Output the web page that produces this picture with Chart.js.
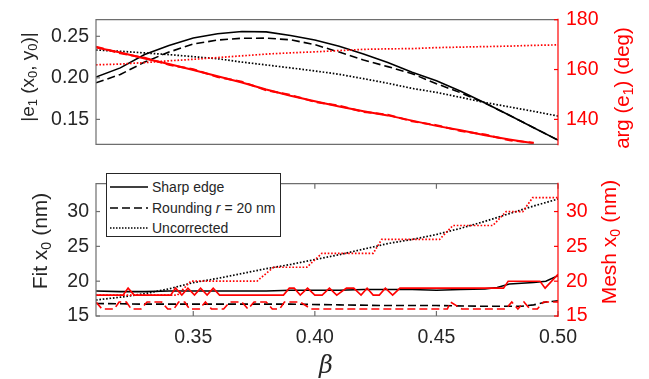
<!DOCTYPE html>
<html>
<head>
<meta charset="utf-8">
<script src="https://cdn.jsdelivr.net/npm/chart.js@4.4.1/dist/chart.umd.min.js"></script>
<style>
    body { margin: 0; background: #fff; font-family: "Liberation Sans", Arial, sans-serif; }
    #wrap { position: relative; width: 649px; height: 379px; overflow: hidden; }
    canvas { position: absolute; left: 0; }
    .lab { position: absolute; white-space: nowrap; transform: translate(-50%, -50%) rotate(-90deg); font-size: 21px; color: #262626; line-height: 1; }
    .lab sub { font-size: 0.68em; vertical-align: -0.3em; line-height: 0; }
    .red { color: #ff0000; }
    #beta { position: absolute; left: 326px; top: 365px; transform: translate(-50%, -50%); font-size: 24px; font-style: italic; color: #262626; font-family: "DejaVu Serif", serif; }
    #legend { position: absolute; left: 106px; top: 173px; width: 175px; height: 64px; border: 1px solid #262626; background: #fff; box-sizing: border-box; font-size: 14px; color: #262626; }
    .row { position: absolute; left: 3px; height: 18px; display: flex; align-items: center; white-space: nowrap; }
    .row svg { margin-right: 4px; }
</style>
</head>
<body>
<div id="wrap">
    <canvas id="topChart" width="649" height="164" style="top:0"></canvas>
    <canvas id="botChart" width="649" height="215" style="top:164px"></canvas>

    <div class="lab" style="left:27px;top:77px;font-size:19px;">|e<sub>1</sub> (x<sub>0</sub>, y<sub>0</sub>)|</div>
    <div class="lab red" style="left:622px;top:88px;font-size:20.5px;">arg (e<sub>1</sub>) (deg)</div>
    <div class="lab" style="left:39px;top:241px;">Fit x<sub>0</sub> (nm)</div>
    <div class="lab red" style="left:608px;top:242px;">Mesh x<sub>0</sub> (nm)</div>
    <div id="beta">β</div>

    <div id="legend">
        <div class="row" style="top:4px;"><svg width="38" height="4"><line x1="0" y1="2" x2="38" y2="2" stroke="#000" stroke-width="1.6"/></svg>Sharp edge</div>
        <div class="row" style="top:25px;"><svg width="38" height="4"><line x1="0" y1="2" x2="38" y2="2" stroke="#000" stroke-width="1.6" stroke-dasharray="8 4"/></svg>Rounding <i>&nbsp;r</i>&nbsp;= 20 nm</div>
        <div class="row" style="top:45px;"><svg width="38" height="4"><line x1="0" y1="2" x2="38" y2="2" stroke="#000" stroke-width="1.6" stroke-dasharray="1.5 1.5"/></svg>Uncorrected</div>
    </div>
</div>

<script>
// ---- top panel: |e1| (left axis) and arg(e1) (right axis) vs beta ----
const betaTop = [0.31, 0.32, 0.33, 0.34, 0.35, 0.36, 0.37, 0.38, 0.39, 0.40,
                 0.41, 0.42, 0.43, 0.44, 0.45, 0.46, 0.47, 0.48, 0.49, 0.50];
const absSharp = [0.201, 0.212, 0.228, 0.239, 0.248, 0.253, 0.2558, 0.2553, 0.251, 0.2455,
                  0.238, 0.2287, 0.2185, 0.2068, 0.1965, 0.1838, 0.1698, 0.155, 0.140, 0.125];
const absRound = [0.194, 0.204, 0.219, 0.231, 0.2407, 0.2455, 0.2477, 0.2478, 0.2458, 0.240,
                  0.231, 0.2215, 0.2135, 0.205, 0.193, 0.182, 0.1695, 0.155, 0.140, 0.125];
const absUnc = [0.2335, 0.232, 0.230, 0.228, 0.2255, 0.223, 0.219, 0.2155, 0.212, 0.2083,
                0.2043, 0.199, 0.1935, 0.1873, 0.1825, 0.1765, 0.1703, 0.165, 0.1597, 0.154];
const argSharp = [168.9, 166.8, 164.4, 162.2, 159.8, 157.3, 154.8, 152.0, 149.5, 147.3,
                  145.2, 143.3, 141.6, 139.5, 137.4, 135.6, 133.6, 131.9, 130.4, null];
const argRound = [169.2, 166.5, 164.7, 161.9, 160.1, 157.0, 155.1, 151.7, 149.8, 147.0,
                  145.5, 143.0, 141.9, 139.2, 137.7, 135.3, 133.9, 131.6, 130.6, null];
const argUnc = [161.9, 162.2, 162.8, 163.5, 164.1, 164.8, 165.5, 166.2, 166.7, 167.1,
                167.6, 168.1, 168.3, 168.4, 168.8, 169.0, 169.2, 169.4, 169.7, 169.9];

// ---- bottom panel: fit x0 (left axis) and mesh x0 (right axis) ----
const fitSharpBeta = [0.31, 0.32, 0.33, 0.34, 0.35, 0.36, 0.37, 0.38, 0.39, 0.40, 0.41,
                      0.42, 0.43, 0.44, 0.45, 0.46, 0.47, 0.475, 0.48, 0.49, 0.495, 0.50];
const fitSharp = [18.6, 18.5, 18.5, 18.6, 18.6, 18.6, 18.6, 18.6, 18.7, 18.7, 18.7,
                  18.8, 18.8, 18.8, 18.7, 18.8, 18.9, 19.1, 19.6, 19.8, 20.0, 20.8];
const fitRoundBeta = [0.31, 0.33, 0.35, 0.37, 0.39, 0.41, 0.43, 0.45, 0.47, 0.485, 0.49, 0.495, 0.50];
const fitRound = [16.8, 16.7, 16.7, 16.7, 16.7, 16.6, 16.5, 16.5, 16.4, 16.4, 16.6, 17.0, 17.2];
const fitUnc = [17.3, 17.7, 18.2, 18.9, 19.8, 20.4, 21.1, 21.8, 22.4, 23.1,
                23.8, 24.6, 25.4, 26.0, 26.7, 27.6, 28.6, 29.7, 30.8, 31.8];

const meshSharpBeta = [0.31, 0.3211, 0.3232, 0.3257, 0.3407, 0.3427, 0.3453, 0.3478, 0.3505, 0.353,
                       0.3557, 0.3582, 0.3608, 0.3871, 0.3895, 0.3915, 0.394, 0.397, 0.40, 0.403,
                       0.406, 0.409, 0.413, 0.416, 0.419, 0.4215, 0.424, 0.4265, 0.429, 0.432,
                       0.435, 0.4776, 0.4795, 0.4926, 0.4947, 0.50];
const meshSharp = [18, 18, 19, 18, 18, 19, 18, 19, 18, 19,
                   18, 19, 18, 18, 19, 19, 18, 19, 18, 18,
                   19, 18, 19, 19, 18, 19, 18, 18, 19, 18,
                   19, 19, 20, 20, 19, 21];
const meshRoundBeta = [0.31, 0.3125, 0.3175, 0.3195, 0.3225, 0.3245, 0.3285, 0.331, 0.337, 0.3395,
                       0.342, 0.344, 0.3465, 0.3485, 0.3525, 0.355, 0.3575, 0.3625, 0.365, 0.37,
                       0.3725, 0.375, 0.38, 0.3825, 0.3855, 0.3875, 0.394, 0.3985, 0.4545, 0.4558,
                       0.4605, 0.4785, 0.481, 0.4835, 0.486, 0.4885, 0.4915, 0.494, 0.50];
const meshRound = [17, 16, 16, 17, 17, 16, 16, 17, 17, 16,
                   16, 17, 17, 16, 16, 17, 16, 16, 17, 17,
                   16, 17, 17, 16, 16, 17, 17, 16, 16, 17,
                   16, 16, 17, 16, 17, 16, 16, 17, 17];
const meshUncBeta = [0.31, 0.3435, 0.349, 0.3762, 0.383, 0.3967, 0.4029, 0.424,
                     0.4275, 0.4513, 0.4568, 0.4732, 0.4787, 0.4855, 0.4896, 0.50];
const meshUnc = [18, 18, 20, 20, 22, 22, 24, 24, 26, 26, 28, 28, 30, 30, 32, 32];

// tick values
const betaTicks = [0.35, 0.40, 0.45, 0.50];
const absTicks = [0.15, 0.20, 0.25];
const argTicks = [140, 160, 180];
const fitTicks = [15, 20, 25, 30];
const meshTicks = [15, 20, 25, 30];

const RED = '#ff0000';
const BLACK = '#000000';
const AXIS = '#262626';
const FONT = { family: '"Liberation Sans", Arial, sans-serif', size: 19.5 };

const pts = (xs, ys) => xs.map((x, i) => ({ x: x, y: ys[i] }));

function series(data, color, style, axis, width) {
    const dash = style === 'dash' ? [8, 4] : style === 'dot' ? [1.6, 1.8] : [];
    return {
        data: data,
        yAxisID: axis,
        borderColor: color,
        borderWidth: width || (style === 'dot' ? 1.7 : 1.6),
        borderDash: dash,
        pointRadius: 0,
        tension: 0,
        fill: false,
        spanGaps: false
    };
}

function fixedTicks(values) {
    return scale => { scale.ticks = values.map(v => ({ value: v })); };
}

// box round the plot area, with MATLAB-style inward ticks
const framePlugin = {
    id: 'frame',
    afterDatasetsDraw(chart, args, opts) {
        const { ctx, chartArea: a, scales } = chart;
        ctx.save();
        ctx.lineWidth = 1.2;
        ctx.strokeStyle = '#6e6e6e';
        ctx.beginPath();
        ctx.moveTo(a.right, a.top); ctx.lineTo(a.left, a.top);
        ctx.lineTo(a.left, a.bottom); ctx.lineTo(a.right, a.bottom);
        ctx.stroke();
        scales.y.ticks.forEach(t => {
            const py = scales.y.getPixelForValue(t.value);
            ctx.beginPath(); ctx.moveTo(a.left, py); ctx.lineTo(a.left + 4, py); ctx.stroke();
        });
        if (opts.xTicks) {
            scales.x.ticks.forEach(t => {
                const px = scales.x.getPixelForValue(t.value);
                ctx.beginPath();
                ctx.moveTo(px, a.top); ctx.lineTo(px, a.top + 5);
                ctx.moveTo(px, a.bottom); ctx.lineTo(px, a.bottom - 5);
                ctx.stroke();
            });
        }
        ctx.strokeStyle = RED;
        ctx.beginPath(); ctx.moveTo(a.right, a.top - 1); ctx.lineTo(a.right, a.bottom + 1); ctx.stroke();
        scales.y1.ticks.forEach(t => {
            const py = scales.y1.getPixelForValue(t.value);
            ctx.beginPath(); ctx.moveTo(a.right, py); ctx.lineTo(a.right - 4, py); ctx.stroke();
        });
        ctx.restore();
    }
};

function yScale(pos, min, max, ticks, color, width, digits) {
    return {
        position: pos,
        min: min,
        max: max,
        afterBuildTicks: fixedTicks(ticks),
        afterFit: s => { s.width = width; },
        grid: { display: false, drawTicks: false },
        border: { display: false },
        ticks: { color: color, font: FONT, padding: pos === 'left' ? 7 : 8, callback: v => v.toFixed(digits) }
    };
}

new Chart(document.getElementById('topChart'), {
    type: 'line',
    data: {
        datasets: [
            series(pts(betaTop, argSharp), RED, 'solid', 'y1', 2),
            series(pts(betaTop, argRound), RED, 'dash', 'y1', 2),
            series(pts(betaTop, argUnc), RED, 'dot', 'y1'),
            series(pts(betaTop, absSharp), BLACK, 'solid', 'y'),
            series(pts(betaTop, absRound), BLACK, 'dash', 'y'),
            series(pts(betaTop, absUnc), BLACK, 'dot', 'y')
        ]
    },
    options: {
        responsive: false,
        animation: false,
        layout: { padding: { top: 11, bottom: 2.5, left: 0, right: 0 } },
        plugins: { legend: { display: false }, tooltip: { enabled: false }, frame: { xTicks: false } },
        scales: {
            x: { type: 'linear', min: 0.31, max: 0.50, display: false },
            y: yScale('left', 0.12, 0.27, absTicks, AXIS, 96, 2),
            y1: yScale('right', 130, 180, argTicks, RED, 91, 0)
        }
    },
    plugins: [framePlugin]
});

new Chart(document.getElementById('botChart'), {
    type: 'line',
    data: {
        datasets: [
            series(pts(meshSharpBeta, meshSharp), RED, 'solid', 'y1'),
            series(pts(meshRoundBeta, meshRound), RED, 'dash', 'y1'),
            series(pts(meshUncBeta, meshUnc), RED, 'dot', 'y1'),
            series(pts(fitSharpBeta, fitSharp), BLACK, 'solid', 'y'),
            series(pts(fitRoundBeta, fitRound), BLACK, 'dash', 'y'),
            series(pts(betaTop, fitUnc), BLACK, 'dot', 'y')
        ]
    },
    options: {
        responsive: false,
        animation: false,
        layout: { padding: { top: 2, bottom: 0, left: 0, right: 0 } },
        plugins: { legend: { display: false }, tooltip: { enabled: false }, frame: { xTicks: true } },
        scales: {
            x: {
                type: 'linear',
                min: 0.31,
                max: 0.50,
                afterBuildTicks: fixedTicks(betaTicks),
                afterFit: s => { s.height = 63; },
                grid: { display: false, drawTicks: false },
                border: { display: false },
                ticks: { color: AXIS, font: FONT, padding: 10, maxRotation: 0, callback: v => v.toFixed(2) }
            },
            y: yScale('left', 15, 34, fitTicks, AXIS, 96, 0),
            y1: yScale('right', 15, 34, meshTicks, RED, 91, 0)
        }
    },
    plugins: [framePlugin]
});
</script>
</body>
</html>
